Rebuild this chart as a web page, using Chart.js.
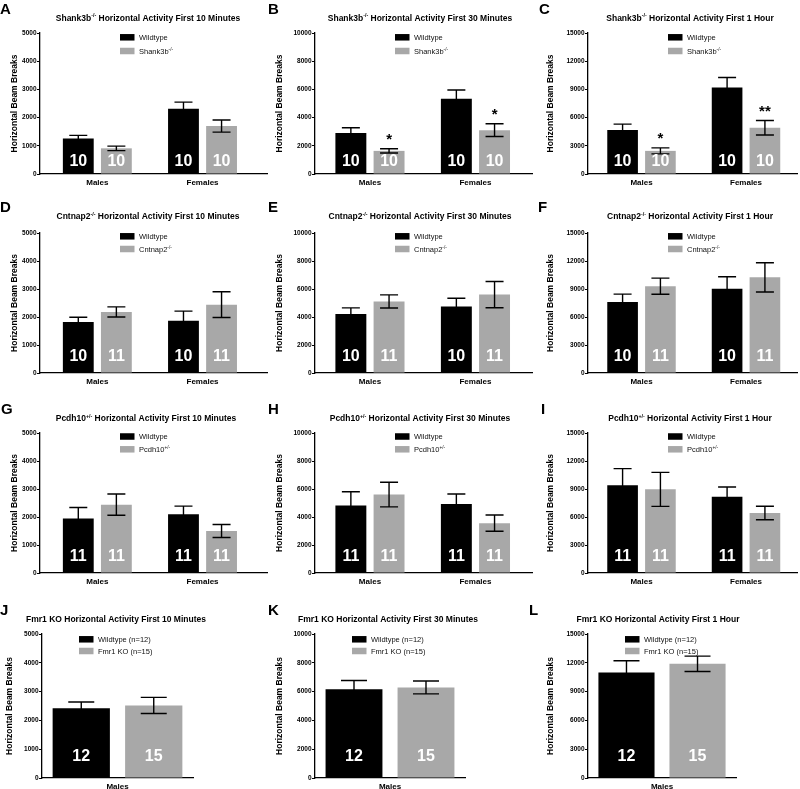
<!DOCTYPE html>
<html><head><meta charset="utf-8">
<script src="https://cdn.jsdelivr.net/npm/chart.js@4.4.0/dist/chart.umd.min.js"></script>
<style>
html,body{margin:0;padding:0;background:#fff;}
#wrap{position:relative;width:800px;height:789px;overflow:hidden;background:#fff;}
#wrap canvas{position:absolute;left:0;top:0;}
</style></head><body><div id="wrap"></div>
<script>
// ---------------- data ----------------
const sexes = ['Males', 'Females'];
const fmr1Sexes = ['Males'];
const durations = ['First 10 Minutes', 'First 30 Minutes', 'First 1 Hour'];
const yMaxByDuration = [5000, 10000, 15000];
const yStepByDuration = [1000, 2000, 3000];
const panelLetters = ['A','B','C','D','E','F','G','H','I','J','K','L'];
const yAxisTitle = 'Horizontal Beam Breaks';

// means per duration (10 min, 30 min, 1 h), per sex
const shank3bWT    = [[1260, 2310], [2900, 5340], [4670, 9190]];
const shank3bWTsem = [[110, 240], [380, 620], [640, 1070]];
const shank3bKO    = [[910, 1700], [1640, 3110], [2460, 4920]];
const shank3bKOsem = [[80, 215], [150, 450], [320, 770]];
const shank3bN     = [10, 10];
const shank3bSig   = [['', ''], ['*', '*'], ['*', '**']];

const cntnap2WT    = [[1820, 1870], [4220, 4750], [7600, 9040]];
const cntnap2WTsem = [[170, 340], [430, 590], [850, 1280]];
const cntnap2KO    = [[2180, 2440], [5110, 5600], [9300, 10250]];
const cntnap2KOsem = [[180, 460], [470, 940], [860, 1570]];
const cntnap2N     = [10, 11];
const cntnap2Sig   = [['', ''], ['', ''], ['', '']];

const pcdh10WT    = [[1950, 2100], [4830, 4930], [9390, 8180]];
const pcdh10WTsem = [[390, 290], [970, 710], [1790, 1030]];
const pcdh10KO    = [[2440, 1500], [5600, 3560], [8960, 6430]];
const pcdh10KOsem = [[380, 230], [880, 580], [1820, 720]];
const pcdh10N     = [11, 11];
const pcdh10Sig   = [['', ''], ['', ''], ['', '']];

const fmr1WT    = [[2420], [6170], [11000]];
const fmr1WTsem = [[220], [600], [1220]];
const fmr1KO    = [[2520], [6290], [11900]];
const fmr1KOsem = [[280], [450], [800]];
const fmr1N     = [12, 15];
const fmr1Sig   = [[''], [''], ['']];

const genotypeNames = ['Shank3b', 'Cntnap2', 'Pcdh10', 'Fmr1 KO'];
const genotypeSups  = ['-/-', '-/-', '+/-', ''];
const wtLegendLabels = ['Wildtype', 'Wildtype', 'Wildtype', 'Wildtype (n=12)'];
const koLegendLabels = [['Shank3b', '-/-'], ['Cntnap2', '-/-'], ['Pcdh10', '+/-'], ['Fmr1 KO (n=15)', '']];

// ---------------- layout / style ----------------
const W = 800, H = 789;
const YW = 30, XH = 14;
const FONT = '"Liberation Sans", Arial, Helvetica, sans-serif';
const BLACK = '#000000', GREY = '#a8a8a8';
const colAxisX = [[40, 315, 588], [40, 315, 588], [40, 315, 588], [42, 315, 588]];
const colAxisEnd = [[267, 532, 797], [267, 532, 797], [267, 532, 797], [193, 465, 736]];
const rowTop = [33, 233, 433, 634];
const rowBot = [174, 373, 573, 778];
const xRanges = [[-0.545, 1.613], [-0.521, 1.536], [-0.512, 1.488]];
const titleCX = [[148, 420, 690], [148, 420, 690], [146, 420, 690], [116, 388, 658]];
const titleCY = [17.7, 216, 418, 619];
const letterX = [[0, 268, 539], [0, 268, 538], [1, 268, 541], [0, 268, 529]];
const letterBase = [13.5, 212, 414, 615];
const yTitleX = [[15, 280, 551], [15, 280, 551], [15, 280, 551], [10, 280, 551]];
const legendDX = [80, 80, 80, 37];
const legendDY = [[4.3, 18], [3.3, 16], [3.5, 16.3], [5.3, 17]];
const nLabelOffset = [13, 17.5, 17.5, 22];

const genotypeData = [
  {wt: shank3bWT, wtSem: shank3bWTsem, ko: shank3bKO, koSem: shank3bKOsem, n: shank3bN, sig: shank3bSig},
  {wt: cntnap2WT, wtSem: cntnap2WTsem, ko: cntnap2KO, koSem: cntnap2KOsem, n: cntnap2N, sig: cntnap2Sig},
  {wt: pcdh10WT, wtSem: pcdh10WTsem, ko: pcdh10KO, koSem: pcdh10KOsem, n: pcdh10N, sig: pcdh10Sig},
  {wt: fmr1WT, wtSem: fmr1WTsem, ko: fmr1KO, koSem: fmr1KOsem, n: fmr1N, sig: fmr1Sig}
];

function font(size, weight) { return (weight || 'normal') + ' ' + size + 'px ' + FONT; }

function drawRich(ctx, parts, x, y, size, weight, align) {
  const fonts = parts.map(p => font(p[1] ? size * 0.62 : size, weight));
  const widths = parts.map((p, i) => { ctx.font = fonts[i]; return ctx.measureText(p[0]).width; });
  const total = widths.reduce((a, b) => a + b, 0);
  let cx = align === 'center' ? x - total / 2 : x;
  ctx.textAlign = 'left';
  ctx.textBaseline = 'alphabetic';
  parts.forEach((p, i) => {
    ctx.font = fonts[i];
    ctx.fillText(p[0], cx, p[1] ? y - size * 0.4 : y);
    cx += widths[i];
  });
}

const wrap = document.getElementById('wrap');

for (let g = 0; g < 4; g++) {
  for (let d = 0; d < 3; d++) {
    const isFmr = g === 3;
    const gd = genotypeData[g];
    const cats = isFmr ? fmr1Sexes : sexes;
    const axisX = colAxisX[g][d], axisEnd = colAxisEnd[g][d];
    const canvas = document.createElement('canvas');
    canvas.width = W; canvas.height = H;
    wrap.appendChild(canvas);

    const toData = arr => isFmr ? arr.slice() : arr.map((v, i) => ({x: i, y: v}));
    const barOpts = isFmr ? {categoryPercentage: 0.96, barPercentage: 0.79} : {categoryPercentage: 0.724, barPercentage: 0.81};

    const panelPlugin = {
      id: 'panelDecor' + g + d,
      afterDatasetsDraw(chart) {
        const ctx = chart.ctx;
        const ys = chart.scales.y;
        const area = chart.chartArea;
        ctx.save();
        const sems = [gd.wtSem[d], gd.koSem[d]];
        const means = [gd.wt[d], gd.ko[d]];
        for (let ds = 0; ds < 2; ds++) {
          const meta = chart.getDatasetMeta(ds);
          meta.data.forEach((bar, j) => {
            const m = means[ds][j], s = sems[ds][j];
            const yTop = ys.getPixelForValue(m + s);
            const yLow = ys.getPixelForValue(m - s);
            const half = isFmr ? 13 : 9;
            ctx.strokeStyle = '#000';
            ctx.lineWidth = 1.4;
            ctx.beginPath();
            ctx.moveTo(bar.x, yTop); ctx.lineTo(bar.x, yLow);
            ctx.moveTo(bar.x - half, yTop); ctx.lineTo(bar.x + half, yTop);
            ctx.moveTo(bar.x - half, yLow); ctx.lineTo(bar.x + half, yLow);
            ctx.stroke();
            ctx.fillStyle = '#fff';
            ctx.font = font(16, 'bold');
            ctx.textAlign = 'center';
            ctx.textBaseline = 'middle';
            ctx.fillText(String(gd.n[ds]), bar.x, area.bottom - nLabelOffset[g] + 1);
            if (ds === 1 && gd.sig[d][j]) {
              ctx.fillStyle = '#000';
              ctx.font = font(15, 'bold');
              ctx.textBaseline = 'alphabetic';
              ctx.fillText(gd.sig[d][j], bar.x, yTop - 13 + 8.5);
            }
          });
        }
        ctx.fillStyle = '#000';
        ctx.save();
        ctx.translate(yTitleX[g][d], (area.top + area.bottom) / 2);
        ctx.rotate(-Math.PI / 2);
        ctx.font = font(8.5, 'bold');
        ctx.textAlign = 'center';
        ctx.textBaseline = 'middle';
        ctx.fillText(yAxisTitle, 0, 0);
        ctx.restore();
        const titleParts = [[genotypeNames[g], false]];
        if (genotypeSups[g]) titleParts.push([genotypeSups[g], true]);
        titleParts.push([' Horizontal Activity ' + durations[d], false]);
        ctx.fillStyle = '#000';
        drawRich(ctx, titleParts, titleCX[g][d], titleCY[g] + 3.1, 8.5, 'bold', 'center');
        const lx = axisX + legendDX[g];
        const boxW = 14.5, boxH = 6.5;
        ctx.fillStyle = BLACK;
        ctx.fillRect(lx, area.top + legendDY[g][0] - boxH / 2, boxW, boxH);
        ctx.fillStyle = GREY;
        ctx.fillRect(lx, area.top + legendDY[g][1] - boxH / 2, boxW, boxH);
        ctx.fillStyle = '#111';
        drawRich(ctx, [[wtLegendLabels[g], false]], lx + 19, area.top + legendDY[g][0] + 2.7, 7.5, 'normal', 'left');
        const kp = [[koLegendLabels[g][0], false]];
        if (koLegendLabels[g][1]) kp.push([koLegendLabels[g][1], true]);
        drawRich(ctx, kp, lx + 19, area.top + legendDY[g][1] + 2.7, 7.5, 'normal', 'left');
        ctx.fillStyle = '#000';
        ctx.font = font(15, 'bold');
        ctx.textAlign = 'left';
        ctx.textBaseline = 'alphabetic';
        ctx.fillText(panelLetters[g * 3 + d], letterX[g][d], letterBase[g]);
        ctx.restore();
      }
    };

    const xCommon = {
      offset: isFmr,
      grid: {display: false, drawTicks: false, offset: false},
      border: {display: true, color: '#000', width: 1.3},
      ticks: {font: {family: FONT, size: 8, weight: 'bold'}, color: '#000', padding: 4, maxRotation: 0, autoSkip: false},
      afterFit: s => { s.height = XH; }
    };
    const xScale = isFmr ? Object.assign({type: 'category'}, xCommon) : Object.assign({
      type: 'linear', min: xRanges[d][0], max: xRanges[d][1],
      afterBuildTicks: s => { s.ticks = cats.map((c, i) => ({value: i})); }
    }, xCommon, {ticks: Object.assign({}, xCommon.ticks, {callback: v => cats[v]})});

    new Chart(canvas, {
      type: 'bar',
      data: {
        labels: isFmr ? cats : undefined,
        datasets: [
          Object.assign({label: wtLegendLabels[g], data: toData(gd.wt[d]), backgroundColor: BLACK, borderWidth: 0}, barOpts),
          Object.assign({label: koLegendLabels[g].join(''), data: toData(gd.ko[d]), backgroundColor: GREY, borderWidth: 0}, barOpts)
        ]
      },
      options: {
        responsive: false, animation: false, devicePixelRatio: 1,
        layout: {padding: {left: axisX - YW, right: W - axisEnd, top: rowTop[g], bottom: H - rowBot[g] - XH}},
        plugins: {legend: {display: false}, tooltip: {enabled: false}, title: {display: false}},
        scales: {
          x: xScale,
          y: {
            min: 0, max: yMaxByDuration[d],
            ticks: {stepSize: yStepByDuration[d], font: {family: FONT, size: 6.5, weight: 'bold'}, color: '#000', padding: 0.5,
                    callback: v => String(v)},
            grid: {display: true, drawOnChartArea: false, drawTicks: true, tickLength: 3, color: '#000', lineWidth: 1},
            border: {display: true, color: '#000', width: 1.3},
            afterFit: s => { s.width = YW; }
          }
        }
      },
      plugins: [panelPlugin]
    });
  }
}
</script>
</body></html>
